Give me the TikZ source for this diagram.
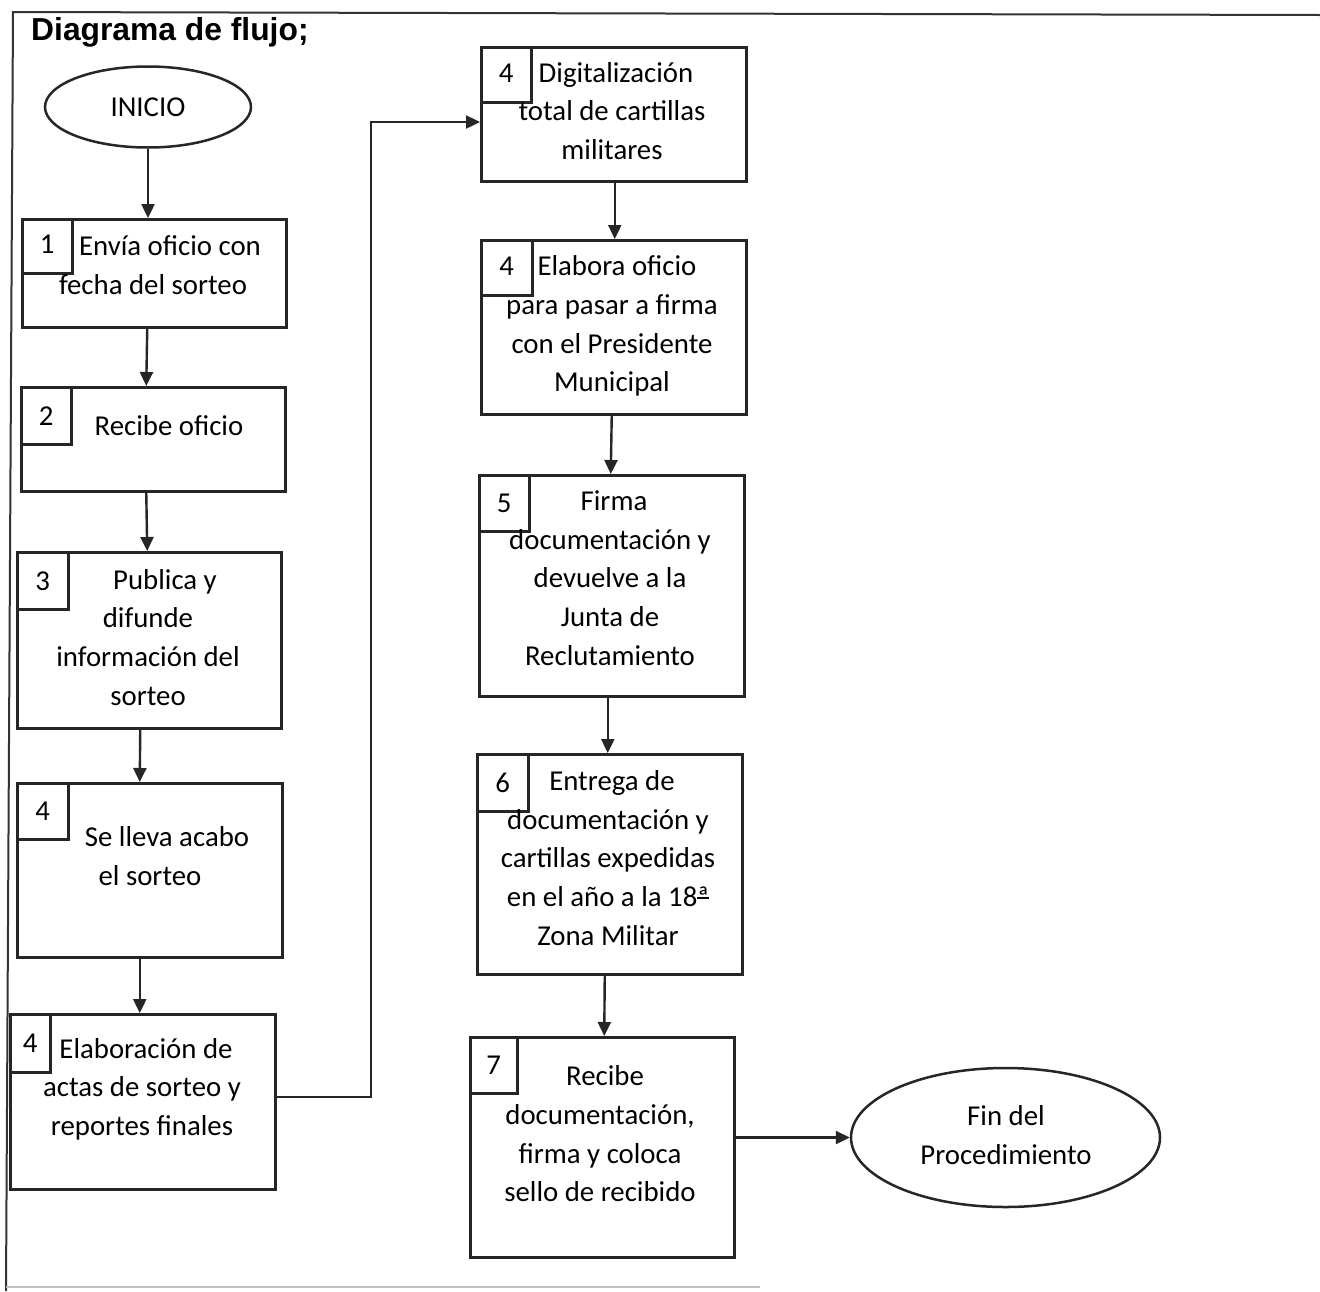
\documentclass[tikz,border=0pt]{standalone}
\usepackage{fontspec}
\setmainfont{Carlito}
\newfontfamily\titlefont{Liberation Sans}
\usetikzlibrary{shapes.geometric,arrows.meta}

% feminine ordinal with the underline bar under the raised a
\newcommand\ordfem{\setbox0\hbox{ª}\rlap{\raisebox{0.27em}{\rule{\wd0}{0.05em}}}\box0}

\begin{document}
\begin{tikzpicture}[x=1pt,y=-1pt,
  ink/.style={draw=black!85,line width=2.5pt},
  stepbox/.style={ink,rectangle,inner sep=0pt,anchor=north west},
  numbox/.style={ink,rectangle,inner sep=0pt,anchor=north west},
  terminal/.style={ink,ellipse,inner sep=0pt},
  body/.style={inner sep=0pt,align=center,text=black,
    font=\fontsize{28.8}{38.7}\selectfont},
  num/.style={inner sep=0pt,text=black,font=\fontsize{28.8}{38.7}\selectfont},
  flow/.style={ink,line width=2.4pt,-{Triangle[length=14pt,width=13pt]}},
  line join=miter]

% page
\useasboundingbox (0,0) rectangle (1320,1291);
\fill[white] (0,0) rectangle (1320,1291);

% outer frame
\coordinate (ftl) at (13,12);
\coordinate (ftr) at (1320,15);
\coordinate (fbl) at (6,1291);
\coordinate (bl1) at (6,1287);
\coordinate (bl2) at (760,1287);
\draw[black!80,line width=2pt] (ftr) -- (ftl) -- (fbl);
\draw[black!25,line width=1.4pt] (bl1) -- (bl2);

% title
\node[inner sep=0pt,anchor=base west,font=\titlefont\bfseries\fontsize{31.8}{36}\selectfont]
  (title) at (31,40) {Diagrama de flujo;};

% start / end
\node[terminal,minimum width=206pt,minimum height=81pt] (start) at (148,107) {};
\node[body] (tstart) at (148,107) {INICIO};
\node[terminal,minimum width=309pt,minimum height=139pt] (stop) at (1005.5,1137.5) {};
\node[body] (tstop) at (1006,1137) {\strut Fin del\\\strut Procedimiento};

% left column boxes
\node[stepbox,minimum width=264pt,minimum height=108pt] (b1) at (21,218) {};
\node[numbox,minimum width=50pt,minimum height=54pt]   (n1) at (21,218) {};
\node[num] (l1) at ([yshift=2pt]n1.center) {1};
\node[body] (t1) at (153,267.5) {\strut\hspace*{34pt}Envía oficio con\\\strut fecha del sorteo};

\node[stepbox,minimum width=264pt,minimum height=104pt] (b2) at (20,386) {};
\node[numbox,minimum width=50pt,minimum height=57pt]   (n2) at (20,386) {};
\node[num] (l2) at (n2.center) {2};
\node[body] (t2) at (169,428) {\strut Recibe oficio};

\node[stepbox,minimum width=264pt,minimum height=176pt] (b3) at (16,551) {};
\node[numbox,minimum width=51pt,minimum height=57pt]   (n3) at (16,551) {};
\node[num] (l3) at (n3.center) {3};
\node[body] (t3) at (148,639.5) {\strut\hspace*{34pt}Publica y\\\strut difunde\\\strut información del\\\strut sorteo};

\node[stepbox,minimum width=265pt,minimum height=174pt] (b4) at (16,782) {};
\node[numbox,minimum width=51pt,minimum height=56pt]   (n4) at (16,782) {};
\node[num] (l4) at (n4.center) {4};
\node[body] (t4) at (150,858) {\strut\hspace*{34pt}Se lleva acabo\\\strut el sorteo};

\node[stepbox,minimum width=265pt,minimum height=175pt] (b5) at (9,1013) {};
\node[numbox,minimum width=40pt,minimum height=58pt]   (n5) at (9,1013) {};
\node[num] (l5) at (n5.center) {4};
\node[body] (t5) at (142,1089) {\strut\hspace*{8pt}Elaboración de\\\strut actas de sorteo y\\\strut reportes finales};

% right column boxes
\node[stepbox,minimum width=265pt,minimum height=134pt] (b6) at (480,46) {};
\node[numbox,minimum width=50pt,minimum height=55pt]   (n6) at (480,46) {};
\node[num] (l6) at ([yshift=2pt]n6.center) {4};
\node[body] (t6) at (612,113) {\strut\hspace*{8pt}Digitalización\\\strut total de cartillas\\\strut militares};

\node[stepbox,minimum width=265pt,minimum height=174pt] (b7) at (480,239) {};
\node[numbox,minimum width=51pt,minimum height=55pt]   (n7) at (480,239) {};
\node[num] (l7) at ([yshift=2pt]n7.center) {4};
\node[body] (t7) at (612,326) {\strut\hspace*{10pt}Elabora oficio\\\strut para pasar a firma\\\strut con el Presidente\\\strut Municipal};

\node[stepbox,minimum width=265pt,minimum height=221pt] (b8) at (478,474) {};
\node[numbox,minimum width=50pt,minimum height=56pt]   (n8) at (478,474) {};
\node[num] (l8) at (n8.center) {5};
\node[body] (t8) at (610,580) {\strut\hspace*{8pt}Firma\\\strut documentación y\\\strut devuelve a la\\\strut Junta de\\\strut Reclutamiento};

\node[stepbox,minimum width=265pt,minimum height=220pt] (b9) at (476,753) {};
\node[numbox,minimum width=51pt,minimum height=57pt]   (n9) at (476,753) {};
\node[num] (l9) at (n9.center) {6};
\node[body] (t9) at (608,860) {\strut\hspace*{8pt}Entrega de\\\strut documentación y\\\strut cartillas expedidas\\\strut en el año a la 18\ordfem\\\strut Zona Militar};

\node[stepbox,minimum width=264pt,minimum height=220pt] (b10) at (469,1036) {};
\node[numbox,minimum width=47pt,minimum height=56pt]    (n10) at (469,1036) {};
\node[num] (l10) at (n10.center) {7};
\node[body] (t10) at (600,1136) {\strut\hspace*{10pt}Recibe\\\strut documentación,\\\strut firma y coloca\\\strut sello de recibido};

% connectors
\draw[flow] (start.south) -- (b1.north -| start.south);
\draw[flow] ([xshift=-7pt]b1.south) -- ([xshift=-7pt]b2.north);
\draw[flow] ([xshift=-7pt]b2.south) -- ([xshift=-2pt]b3.north);
\draw[flow] ([xshift=-9pt]b3.south) -- ([xshift=-10pt]b4.north);
\draw[flow] ([xshift=-10pt]b4.south) -- ([xshift=-3pt]b5.north);
\coordinate (jog1) at (371,1097);
\coordinate (jog2) at (371,122);
\draw[flow] (b5.east |- jog1) -- (jog1) -- (jog2) -- (b6.west |- jog2);
\draw[flow] ([xshift=1pt]b6.south) -- ([xshift=1pt]b7.north);
\draw[flow] ([xshift=-2pt]b7.south) -- ([xshift=-1pt]b8.north);
\draw[flow] ([xshift=-4pt]b8.south) -- ([xshift=-2pt]b9.north);
\draw[flow] ([xshift=-5pt]b9.south) -- ([xshift=2pt]b10.north);
\draw[flow] (b10.east |- stop.west) -- (stop.west);
\end{tikzpicture}
\end{document}
